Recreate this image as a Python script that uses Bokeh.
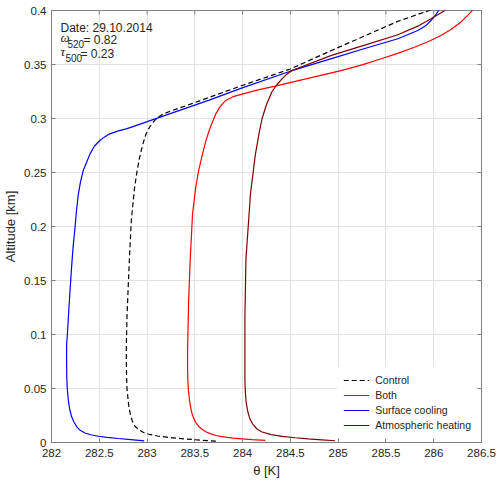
import math
from bokeh.plotting import figure
from bokeh.models import Range1d, FixedTicker, Label, Legend, LegendItem
from bokeh.embed import file_html
from bokeh.resources import INLINE

# ---- tick values / labels ----
x_ticks = [282, 282.5, 283, 283.5, 284, 284.5, 285, 285.5, 286, 286.5]
x_tick_labels = ["282", "282.5", "283", "283.5", "284", "284.5", "285", "285.5", "286", "286.5"]
y_ticks = [0, 0.05, 0.1, 0.15, 0.2, 0.25, 0.3, 0.35, 0.4]
y_tick_labels = ["0", "0.05", "0.1", "0.15", "0.2", "0.25", "0.3", "0.35", "0.4"]

# ---- series (theta [K], altitude [km]) ----
control_theta = [283.72, 283.55, 283.39, 283.24, 283.11, 283.02, 282.96, 282.91, 282.87,
                 282.845, 282.825, 282.81, 282.80, 282.79, 282.786, 282.783, 282.783,
                 282.79, 282.804, 282.818, 282.835, 282.87, 282.895, 282.922, 282.955,
                 282.99, 283.03, 283.078, 283.12, 283.164, 283.25, 283.476, 283.996,
                 284.498, 284.93, 285.278, 285.625, 285.97]
control_alt = [0.0012, 0.0022, 0.0034, 0.0046, 0.0060, 0.0076, 0.0094, 0.012, 0.0155,
               0.020, 0.026, 0.033, 0.041, 0.050, 0.060, 0.075, 0.090,
               0.116, 0.147, 0.175, 0.2056, 0.2364, 0.251, 0.264, 0.276,
               0.2858, 0.2925, 0.298, 0.3015, 0.304, 0.307, 0.314, 0.3306,
               0.3458, 0.3630, 0.3765, 0.3900, 0.4005]

both_theta = [284.238, 284.10, 283.996, 283.90, 283.822, 283.719, 283.66, 283.615, 283.575,
              283.54, 283.51, 283.488, 283.47, 283.455, 283.443, 283.433, 283.427, 283.424,
              283.424, 283.435, 283.452, 283.476, 283.51, 283.54, 283.58, 283.615, 283.65,
              283.685, 283.718, 283.765, 283.822, 283.90, 283.996, 284.15, 284.342, 284.65,
              285.03, 285.25, 285.451, 285.63, 285.798, 285.95, 286.075, 286.18, 286.283,
              286.35, 286.415]
both_alt = [0.0019, 0.0026, 0.0034, 0.0041, 0.0049, 0.0065, 0.0082, 0.0100, 0.0122,
            0.015, 0.0185, 0.0225, 0.027, 0.033, 0.040, 0.048, 0.058, 0.070,
            0.085, 0.131, 0.170, 0.2117, 0.2364, 0.252, 0.267, 0.279, 0.2889,
            0.297, 0.304, 0.311, 0.3167, 0.3202, 0.3225, 0.3262, 0.330, 0.3365,
            0.3444, 0.3497, 0.3553, 0.3605, 0.366, 0.3715, 0.3769, 0.3825, 0.3892,
            0.395, 0.401]

surface_theta = [282.97, 282.83, 282.70, 282.58, 282.49, 282.41, 282.35, 282.30, 282.265,
                 282.235, 282.21, 282.19, 282.175, 282.165, 282.16, 282.158, 282.158,
                 282.166, 282.187, 282.21, 282.225, 282.246, 282.262, 282.281, 282.305,
                 282.333, 282.37, 282.402, 282.45, 282.506, 282.56, 282.61, 282.70,
                 282.783, 282.95, 283.13, 283.65, 283.996, 284.498, 284.93, 285.278,
                 285.625, 285.833, 285.92, 285.971, 286.02, 286.06]
surface_alt = [0.0015, 0.0027, 0.0037, 0.0047, 0.0058, 0.0072, 0.0088, 0.0113, 0.0145,
               0.019, 0.024, 0.031, 0.040, 0.050, 0.060, 0.075, 0.090,
               0.100, 0.131, 0.162, 0.180, 0.199, 0.215, 0.230, 0.242,
               0.252, 0.260, 0.267, 0.2745, 0.2796, 0.2832, 0.2858, 0.2885,
               0.2904, 0.2955, 0.301, 0.317, 0.3284, 0.3438, 0.3555, 0.3648,
               0.3738, 0.3815, 0.3862, 0.3907, 0.396, 0.401]

atmos_theta = [284.966, 284.83, 284.689, 284.55, 284.412, 284.30, 284.204, 284.15, 284.11,
               284.08, 284.06, 284.045, 284.035, 284.028, 284.024, 284.024, 284.035,
               284.058, 284.082, 284.134, 284.16, 284.18, 284.204, 284.25, 284.308,
               284.36, 284.412, 284.46, 284.516, 284.93, 285.278, 285.625, 285.833,
               285.971, 286.137]
atmos_alt = [0.0016, 0.0025, 0.0034, 0.0044, 0.0056, 0.0073, 0.0097, 0.0125, 0.0165,
             0.021, 0.0266, 0.033, 0.0389, 0.048, 0.0574, 0.116, 0.170,
             0.199, 0.230, 0.267, 0.280, 0.290, 0.300, 0.313, 0.325,
             0.3315, 0.3367, 0.3408, 0.3444, 0.3585, 0.3680, 0.3775, 0.3855,
             0.3923, 0.401]

AX = "#808080"
TXT = "#262626"
FONT = "Liberation Sans"

p = figure(width=500, height=484, output_backend="svg", toolbar_location=None,
           x_range=Range1d(282, 286.5), y_range=Range1d(0, 0.4),
           min_border_left=48, min_border_right=19, min_border_top=10, min_border_bottom=42,
           background_fill_color="white", border_fill_color="white")

p.outline_line_color = AX
p.outline_line_width = 1

p.xaxis.ticker = FixedTicker(ticks=x_ticks)
p.yaxis.ticker = FixedTicker(ticks=y_ticks)
p.xaxis.major_label_overrides = dict(zip(x_ticks, x_tick_labels))
p.yaxis.major_label_overrides = dict(zip(y_ticks, y_tick_labels))

for ax in (p.xaxis[0], p.yaxis[0]):
    ax.axis_line_color = AX
    ax.major_tick_line_color = AX
    ax.major_tick_in = 4
    ax.major_tick_out = 0
    ax.minor_tick_line_color = None
    ax.major_label_text_font = FONT
    ax.major_label_text_font_size = "11.5px"
    ax.major_label_text_color = TXT
    ax.axis_label_text_font = FONT
    ax.axis_label_text_font_size = "13px"
    ax.axis_label_text_font_style = "normal"
    ax.axis_label_text_color = TXT
    ax.axis_label_standoff = 3
p.xaxis.major_label_standoff = 6
p.yaxis.major_label_standoff = 5
p.xaxis.axis_label = "\u03b8 [K]"
p.yaxis.axis_label = "Altitude [km]"

p.xgrid.grid_line_color = "#e3e3e3"
p.ygrid.grid_line_color = "#e3e3e3"

# inward ticks on the top and right edges of the box (clipped to the frame)
p.scatter(x_ticks, [p.y_range.end] * len(x_ticks), marker="dash", angle=math.pi / 2,
          size=8, line_color=AX, line_width=1)
p.scatter([p.x_range.end] * len(y_ticks), y_ticks, marker="dash",
          size=8, line_color=AX, line_width=1)

r_c = p.line(control_theta, control_alt, line_color="black", line_width=1.2, line_dash="5 3")
r_b = p.line(both_theta, both_alt, line_color="#ff0000", line_width=1.2)
r_s = p.line(surface_theta, surface_alt, line_color="#0000ff", line_width=1.2)
r_a = p.line(atmos_theta, atmos_alt, line_color="#800000", line_width=1.2)

legend = Legend(items=[LegendItem(label="Control", renderers=[r_c]),
                       LegendItem(label="Both", renderers=[r_b]),
                       LegendItem(label="Surface cooling", renderers=[r_s]),
                       LegendItem(label="Atmospheric heating", renderers=[r_a])],
                location="bottom_right")
legend.label_text_font = FONT
legend.label_text_font_size = "10.5px"
legend.label_text_color = TXT
legend.glyph_width = 26
legend.glyph_height = 14
legend.label_height = 14
legend.label_standoff = 6
legend.spacing = 1
legend.padding = 6
legend.margin = 4
legend.border_line_alpha = 0
legend.background_fill_color = "white"
legend.background_fill_alpha = 1
p.add_layout(legend)

def lab(text, dx, dy, size="12px", font=FONT, style="normal"):
    p.add_layout(Label(x=p.x_range.start, y=p.y_range.end, x_offset=dx, y_offset=dy, text=text,
                       text_font=font, text_font_size=size, text_font_style=style,
                       text_color=TXT, text_baseline="alphabetic", text_align="left"))

# annotation block
lab("Date: 29.10.2014", 9, -17)
lab("\u03c9", 9, -27, size="13px", font="Liberation Serif", style="italic")
lab("520", 16, -33, size="10px")
lab("= 0.82", 32, -29.3)
lab("\u03c4", 9, -40.7, size="13px", font="Liberation Serif", style="italic")
lab("500", 14, -47.3, size="10px")
lab("= 0.23", 29, -43.3)

open("out.html", "w").write(file_html(p, INLINE))
